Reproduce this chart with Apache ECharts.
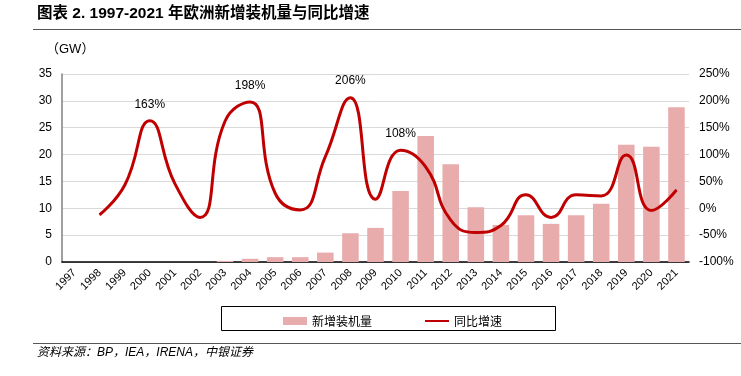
<!DOCTYPE html>
<html><head><meta charset="utf-8">
<script src="https://cdn.jsdelivr.net/npm/echarts@6/dist/echarts.min.js"></script>
<style>html,body{margin:0;padding:0;background:#fff}#c{width:741px;height:376px}</style>
</head><body><div id="c"></div>
<script>
const categories = ['1997','1998','1999','2000','2001','2002','2003','2004','2005','2006','2007','2008','2009','2010','2011','2012','2013','2014','2015','2016','2017','2018','2019','2020','2021'];
const installed = [0,0,0,0,0,0,0.2,0.6,0.9,0.9,1.75,5.35,6.35,13.2,23.45,18.2,10.2,6.9,8.7,7.1,8.7,10.85,21.85,21.45,28.8];
const growth = [null,-12,43,163,46,-17,162,198,28,-3,96,206,17,108,77,-22,-45,-32,25,-17,25,23,99,-4,34];
const labelYears = ['2000','2004','2008','2010'];
const leftTicks = [0,35,5];
const rightTicks = [-100,250,50];

const font = '"Liberation Sans Narrow","Liberation Sans",Arial,sans-serif';
const cjk = '"Noto Sans CJK SC",sans-serif';
const chart = echarts.init(document.getElementById('c'));
chart.setOption({
  animation:false,
  textStyle:{fontFamily:font},
  graphic:[
    {type:'text',left:37,top:6,style:{text:'图表 2. 1997-2021 年欧洲新增装机量与同比增速',font:'bold 15.5px "Liberation Sans",'+cjk,fill:'#000'}},
    {type:'line',shape:{x1:33,y1:29.5,x2:741,y2:29.5},style:{stroke:'#555',lineWidth:1}},
    {type:'text',left:46,top:43,style:{text:'（GW）',font:'13px '+font+','+cjk,fill:'#000'}},
    {type:'rect',shape:{x:221.5,y:306.5,width:334,height:24},style:{fill:'none',stroke:'#000',lineWidth:1}},
    {type:'line',shape:{x1:33,y1:343.5,x2:741,y2:343.5},style:{stroke:'#555',lineWidth:1}},
    {type:'text',left:37,top:347,style:{text:'资料来源：BP，IEA，IRENA，中银证券',font:'italic 12px "Liberation Sans Narrow","Liberation Sans",'+cjk,fill:'#000'}}
  ],
  legend:{left:278,top:310,itemGap:52,itemWidth:24,itemHeight:8,
    textStyle:{fontFamily:cjk,fontSize:12,color:'#000'},
    data:[{name:'新增装机量',icon:'rect'},{name:'同比增速',itemStyle:{opacity:0}}]},
  grid:{left:62,right:52,top:74,bottom:114},
  xAxis:{type:'category',data:categories,
    axisLine:{lineStyle:{color:'#000',width:1.5}},axisTick:{show:false},
    axisLabel:{rotate:45,fontSize:11,color:'#000',margin:9,interval:0,fontFamily:font}},
  yAxis:[
    {type:'value',min:leftTicks[0],max:leftTicks[1],interval:leftTicks[2],
     axisLine:{show:true,lineStyle:{color:'#808080',width:1.5}},axisTick:{show:false},
     splitLine:{lineStyle:{color:'#d9d9d9'}},
     axisLabel:{color:'#000',fontSize:12,margin:10,fontFamily:font}},
    {type:'value',min:rightTicks[0],max:rightTicks[1],interval:rightTicks[2],
     axisLine:{show:false},axisTick:{show:false},splitLine:{show:false},
     axisLabel:{color:'#000',fontSize:12,margin:10,formatter:'{value}%',fontFamily:font}}
  ],
  series:[
    {name:'新增装机量',type:'bar',data:installed,barWidth:'66%',itemStyle:{color:'#e8acac'},yAxisIndex:0},
    {name:'同比增速',type:'line',data:growth.map((v,i)=>({value:v,label:{show:labelYears.includes(categories[i])}})),
     yAxisIndex:1,smooth:0.5,symbol:'circle',symbolSize:1,showSymbol:true,
     lineStyle:{color:'#c00000',width:3},itemStyle:{color:'#c00000'},
     label:{position:'top',distance:10,color:'#000',fontSize:12,formatter:p=>p.value+'%',fontFamily:font}}
  ]
});
</script></body></html>
